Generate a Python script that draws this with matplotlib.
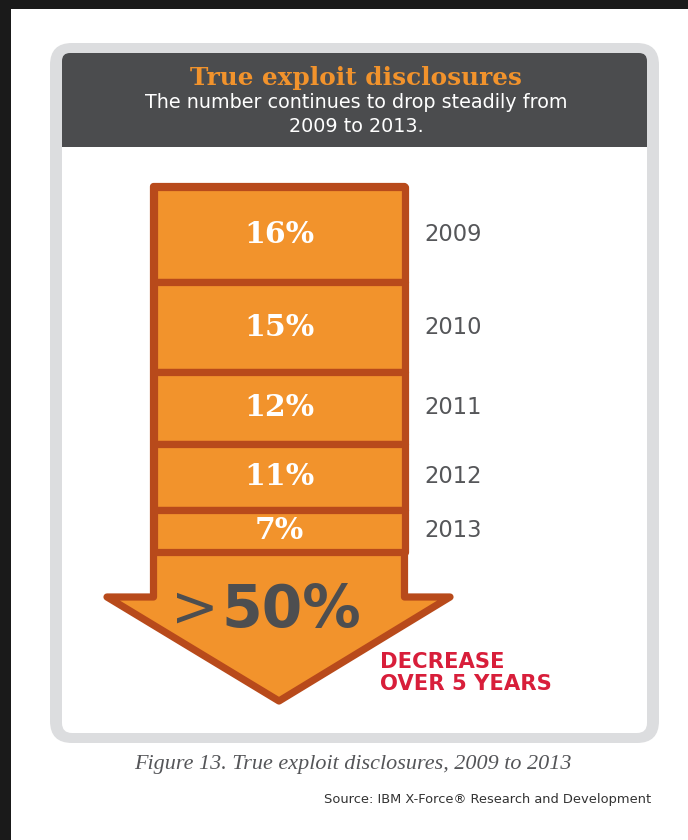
import matplotlib
matplotlib.use("Agg")
import matplotlib.pyplot as plt
from matplotlib.patches import FancyBboxPatch, Rectangle, Polygon
import numpy as np

# ---- data ----
years = ["2009", "2010", "2011", "2012", "2013"]
shares = [16, 15, 12, 11, 7]
pct_labels = ["16%", "15%", "12%", "11%", "7%"]
title = "True exploit disclosures"
subtitle_lines = ["The number continues to drop steadily from", "2009 to 2013."]
big_label_sign = ">"
big_label_value = "50%"
decrease_lines = ["DECREASE", "OVER 5 YEARS"]
caption = "Figure 13. True exploit disclosures, 2009 to 2013"
source = "Source: IBM X-Force\u00ae Research and Development"

# ---- style ----
W, H = 688, 840
ORANGE = "#F2932C"
DARK_OR = "#B84A1B"
HEADER = "#4B4C4E"
FRAME = "#DCDDDF"
RED = "#D81E3A"
TXT = "#555659"

fig = plt.figure(figsize=(W / 100, H / 100), dpi=100, facecolor="white")
ax = fig.add_axes([0, 0, 1, 1])
ax.set_xlim(0, W)
ax.set_ylim(H, 0)
ax.axis("off")

# black page edges
ax.add_patch(Rectangle((0, 0), W, 9, color="#1A1A1A", lw=0))
ax.add_patch(Rectangle((0, 0), 11, H, color="#1A1A1A", lw=0))

# frame
ax.add_patch(FancyBboxPatch((50, 43), 609, 700, boxstyle="round,pad=0,rounding_size=22",
                            fc=FRAME, ec="none"))
ax.add_patch(FancyBboxPatch((62, 53), 585, 680, boxstyle="round,pad=0,rounding_size=10",
                            fc="white", ec="none"))
ax.add_patch(FancyBboxPatch((62, 53), 585, 110, boxstyle="round,pad=0,rounding_size=8",
                            fc=HEADER, ec="none"))
ax.add_patch(Rectangle((62, 147), 585, 30, fc="white", ec="none"))

ax.text(356, 78, title, ha="center", va="center", color=ORANGE,
        fontsize=17.8, fontweight="bold", family="DejaVu Serif")
for i, line in enumerate(subtitle_lines):
    ax.text(356, 103 + 23 * i, line, ha="center", va="center", color="white",
            fontsize=13.8, family="DejaVu Sans")

# arrow geometry (pixel layout)
SL, SR = 153.5, 404.5
STOP, SBOT = 186.5, 551.5
HEAD_Y = 597
HL, HR = 107, 450
APEX = (279, 701)
LW = 5.2

outline = [(SL, STOP), (SL, HEAD_Y), (HL, HEAD_Y), APEX, (HR, HEAD_Y), (SR, HEAD_Y), (SR, STOP)]
ax.add_patch(Polygon(outline, closed=True, fc=ORANGE, ec=DARK_OR, lw=LW, joinstyle="round"))

# stacked segments in their own axes (value scale)
bax = fig.add_axes([SL / W, 1 - SBOT / H, (SR - SL) / W, (SBOT - STOP) / H])
total = sum(shares)
bottoms = np.concatenate([[0], np.cumsum(shares)[:-1]])
bars = bax.bar(0.5, shares, bottom=bottoms, width=1.0, color=ORANGE, edgecolor=DARK_OR,
               linewidth=LW, clip_on=False)
for p in bars:
    p.set_joinstyle("round")
bax.set_xlim(0, 1)
bax.set_ylim(total, 0)
bax.axis("off")
for b, v, lab, yr in zip(bottoms, shares, pct_labels, years):
    mid = b + v / 2
    bax.text(0.5, mid, lab, ha="center", va="center", color="white",
             fontsize=21.5, fontweight="bold", family="DejaVu Serif")
    bax.text(1.08, mid, yr, ha="left", va="center", color=TXT,
             fontsize=16.3, family="DejaVu Sans", clip_on=False)

# big label
ax.text(219, 610, big_label_sign, ha="right", va="center", color="#4D4E50",
        fontsize=41, family="DejaVu Sans")
ax.text(221, 610, big_label_value, ha="left", va="center", color="#4D4E50",
        fontsize=42, fontweight="bold", family="DejaVu Sans")

for i, line in enumerate(decrease_lines):
    ax.text(380, 662 + 22 * i, line, ha="left", va="center", color=RED,
            fontsize=15.2, fontweight="bold", family="DejaVu Sans")

ax.text(134, 765, caption, ha="left", va="center", color=TXT,
        fontsize=15.9, style="italic", family="Liberation Serif")
ax.text(651, 800, source, ha="right", va="center", color="#333333",
        fontsize=9.4, family="DejaVu Sans")

fig.savefig("out.png", dpi=100, facecolor="white")
